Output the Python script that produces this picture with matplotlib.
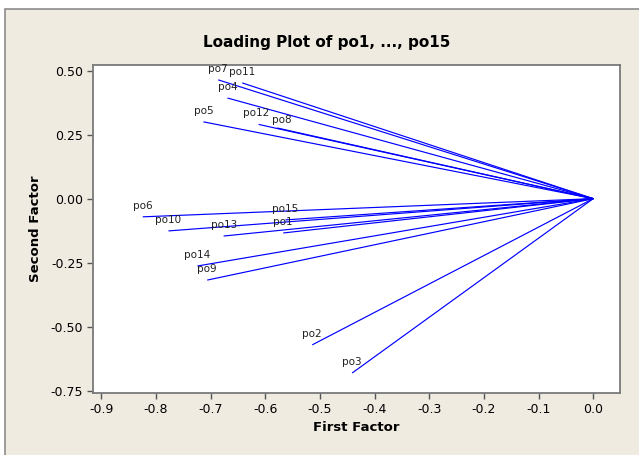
import matplotlib
matplotlib.use("Agg")
import matplotlib.pyplot as plt
from matplotlib.patches import Rectangle

# Factor loadings (first factor, second factor) for each variable
variables = ["po1", "po2", "po3", "po4", "po5", "po6", "po7", "po8",
             "po9", "po10", "po11", "po12", "po13", "po14", "po15"]
first_factor = [-0.567, -0.514, -0.441, -0.669, -0.713, -0.824, -0.686, -0.578,
                -0.706, -0.777, -0.642, -0.612, -0.676, -0.724, -0.563]
second_factor = [-0.134, -0.571, -0.681, 0.393, 0.300, -0.071, 0.464, 0.276,
                 -0.318, -0.126, 0.452, 0.290, -0.146, -0.263, -0.083]

x_ticks = [-0.9, -0.8, -0.7, -0.6, -0.5, -0.4, -0.3, -0.2, -0.1, 0.0]
y_ticks = [-0.75, -0.50, -0.25, 0.00, 0.25, 0.50]

# small nudges for labels that would otherwise collide (points)
label_nudge = {"po8": (3, 6), "po12": (-2, 8)}

W, H = 639, 455
fig = plt.figure(figsize=(W / 100, H / 100), dpi=100, facecolor="white")

# beige panel with a grey frame, behind the axes
bg = Rectangle((5 / W, -0.01), 1.0, 1.01 - 9 / H, transform=fig.transFigure,
               facecolor="#EFEBE1", edgecolor="#8C8C8C", linewidth=1.2, zorder=-5)
fig.patches.append(bg)

ax = fig.add_axes([93 / W, 1 - 393 / H, (620 - 93) / W, (393 - 65) / H])
ax.set_facecolor("white")

for x, y, name in zip(first_factor, second_factor, variables):
    ax.plot([0, x], [0, y], color="#0000FF", linewidth=0.85, solid_capstyle="butt")
    ax.annotate(name, (x, y), xytext=label_nudge.get(name, (0, 8)),
                textcoords="offset points", ha="center", va="center",
                fontsize=7.5, color="#222222")

ax.set_xlim(-0.915, 0.049)
ax.set_ylim(-0.759, 0.522)
ax.set_xticks(x_ticks)
ax.set_xticklabels([f"{v:.1f}" for v in x_ticks])
ax.set_yticks(y_ticks)
ax.set_yticklabels([f"{v:.2f}" for v in y_ticks])
ax.tick_params(direction="out", length=4, width=1, color="#555555",
               labelsize=9, labelcolor="black", pad=3)
for s in ax.spines.values():
    s.set_color("#7a7a7a")
    s.set_linewidth(1.3)

ax.set_xlabel("First Factor", fontsize=9.5, fontweight="bold", labelpad=4)
ax.set_ylabel("Second Factor", fontsize=9.5, fontweight="bold", labelpad=6)
fig.text(327 / W, 1 - 42 / H, "Loading Plot of po1, ..., po15",
         ha="center", va="center", fontsize=11, fontweight="bold")

fig.savefig("out.png", dpi=100, facecolor=fig.get_facecolor())
